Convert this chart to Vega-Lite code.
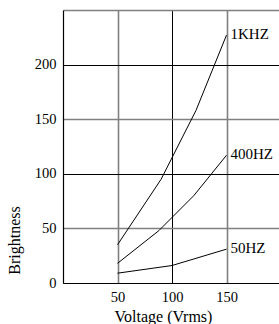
{
  "$schema": "https://vega.github.io/schema/vega-lite/v6.json",
  "width": 218,
  "height": 273,
  "autosize": {"type": "none"},
  "padding": {"left": 63, "top": 10, "right": 0, "bottom": 41},
  "background": "white",
  "config": {
    "view": {"stroke": null},
    "font": "Liberation Serif"
  },
  "data": {
    "values": [
      {"series": "1KHZ", "v": 50, "b": 35},
      {"series": "1KHZ", "v": 90, "b": 95},
      {"series": "1KHZ", "v": 122, "b": 158},
      {"series": "1KHZ", "v": 150, "b": 227},
      {"series": "400HZ", "v": 50, "b": 18},
      {"series": "400HZ", "v": 88, "b": 48},
      {"series": "400HZ", "v": 120, "b": 80},
      {"series": "400HZ", "v": 150, "b": 117},
      {"series": "50HZ", "v": 50, "b": 9},
      {"series": "50HZ", "v": 100, "b": 16},
      {"series": "50HZ", "v": 150, "b": 31}
    ]
  },
  "encoding": {
    "x": {
      "field": "v", "type": "quantitative",
      "scale": {"domain": [0, 200], "nice": false, "zero": false},
      "axis": {
        "title": "Voltage (Vrms)",
        "values": [50, 100, 150],
        "ticks": false,
        "grid": true,
        "gridColor": {"condition": {"test": "datum.value % 100 === 0", "value": "#000000"}, "value": "#808080"},
        "gridWidth": {"condition": {"test": "datum.value % 100 === 0", "value": 1}, "value": 1.6},
        "domainColor": "#000000",
        "domainWidth": 1.2,
        "labelFont": "Liberation Serif",
        "labelFontSize": 14.5,
        "labelColor": "#000000",
        "labelPadding": 7,
        "titleFont": "Liberation Serif",
        "titleFontSize": 16,
        "titleFontWeight": "normal",
        "titleColor": "#000000",
        "titleX": 100,
        "titleY": 38.5,
        "titleAlign": "center",
        "titleBaseline": "alphabetic"
      }
    },
    "y": {
      "field": "b", "type": "quantitative",
      "scale": {"domain": [0, 250], "nice": false, "zero": false},
      "axis": {
        "title": "Brightness",
        "values": [0, 50, 100, 150, 200, 250],
        "labelExpr": "datum.value == 250 ? '' : datum.label",
        "ticks": false,
        "grid": true,
        "gridColor": {"condition": {"test": "datum.value % 100 === 0", "value": "#000000"}, "value": "#808080"},
        "gridWidth": {"condition": {"test": "datum.value % 100 === 0", "value": 1}, "value": 1.6},
        "domainColor": "#000000",
        "domainWidth": 1.2,
        "labelFont": "Liberation Serif",
        "labelFontSize": 14.5,
        "labelColor": "#000000",
        "labelPadding": 7,
        "titleFont": "Liberation Serif",
        "titleFontSize": 16,
        "titleFontWeight": "normal",
        "titleColor": "#000000",
        "titleAngle": -90,
        "titleX": -44,
        "titleY": 230,
        "titleAlign": "center",
        "titleBaseline": "alphabetic"
      }
    }
  },
  "layer": [
    {
      "mark": {"type": "line", "color": "#000000", "strokeWidth": 1},
      "encoding": {"detail": {"field": "series"}}
    },
    {
      "transform": [{"filter": "datum.v == 150"}],
      "mark": {"type": "text", "align": "left", "baseline": "middle", "dx": 4, "dy": -1, "fontSize": 15, "font": "Liberation Serif", "color": "#000000"},
      "encoding": {"text": {"field": "series"}}
    }
  ]
}
